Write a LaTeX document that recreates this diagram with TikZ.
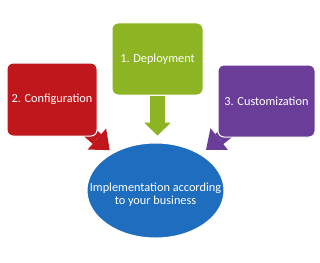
\documentclass[tikz,border=0pt]{standalone}
\usepackage{fontspec}
\setmainfont{Carlito}
\usepackage{tikz}
\usetikzlibrary{arrows.meta,positioning,calc,shapes.geometric,backgrounds}
\definecolor{cred}{HTML}{C0171C}
\definecolor{cgreen}{HTML}{8CB423}
\definecolor{cpurple}{HTML}{6A3E98}
\definecolor{cblue}{HTML}{1E6DBE}
\tikzset{
  stepbox/.style={rectangle, rounded corners=6pt, draw=white, line width=1pt, fill=#1,
                  text=white, align=center, font=\fontsize{12.3}{14}\selectfont},
  oval/.style={ellipse, draw=white, line width=1pt, fill=cblue, inner sep=0pt,
               minimum width=137pt, minimum height=95pt},
  bigarr/.style={draw=#1, line width=13pt,
                 -{Triangle[width=28pt,length=17pt,line width=0pt]}},
}

\begin{document}
\begin{tikzpicture}[x=1pt,y=-1pt]
  \useasboundingbox (0,0) rectangle (320,262);
  \node[stepbox=cred, minimum width=90pt, minimum height=73pt] (conf) at (52,99.5) {2. Configuration};
  \node[stepbox=cgreen, minimum width=91pt, minimum height=72pt] (dep) at (157.5,59) {1. Deployment};
  \node[stepbox=cpurple, minimum width=97pt, minimum height=72pt] (cust) at (266.5,101) {3. Customization};
  \node[oval, label={[text=white, align=center, font=\fontsize{12.3}{13.5}\selectfont, yshift=-4pt]center:{Implementation according\\to your business}}] (impl) at (155.5,190.5) {};
  \begin{scope}[on background layer]
    \draw[bigarr=cred, shorten >=4pt] (conf.center) -- (impl);
    \draw[bigarr=cgreen, line width=15pt, -{Triangle[width=27pt,length=13pt,line width=0pt]}, shorten >=7pt] (dep) -- (dep |- impl.north);
    \draw[bigarr=cpurple, shorten >=7pt] (cust.center) -- (impl);
  \end{scope}
\end{tikzpicture}
\end{document}
